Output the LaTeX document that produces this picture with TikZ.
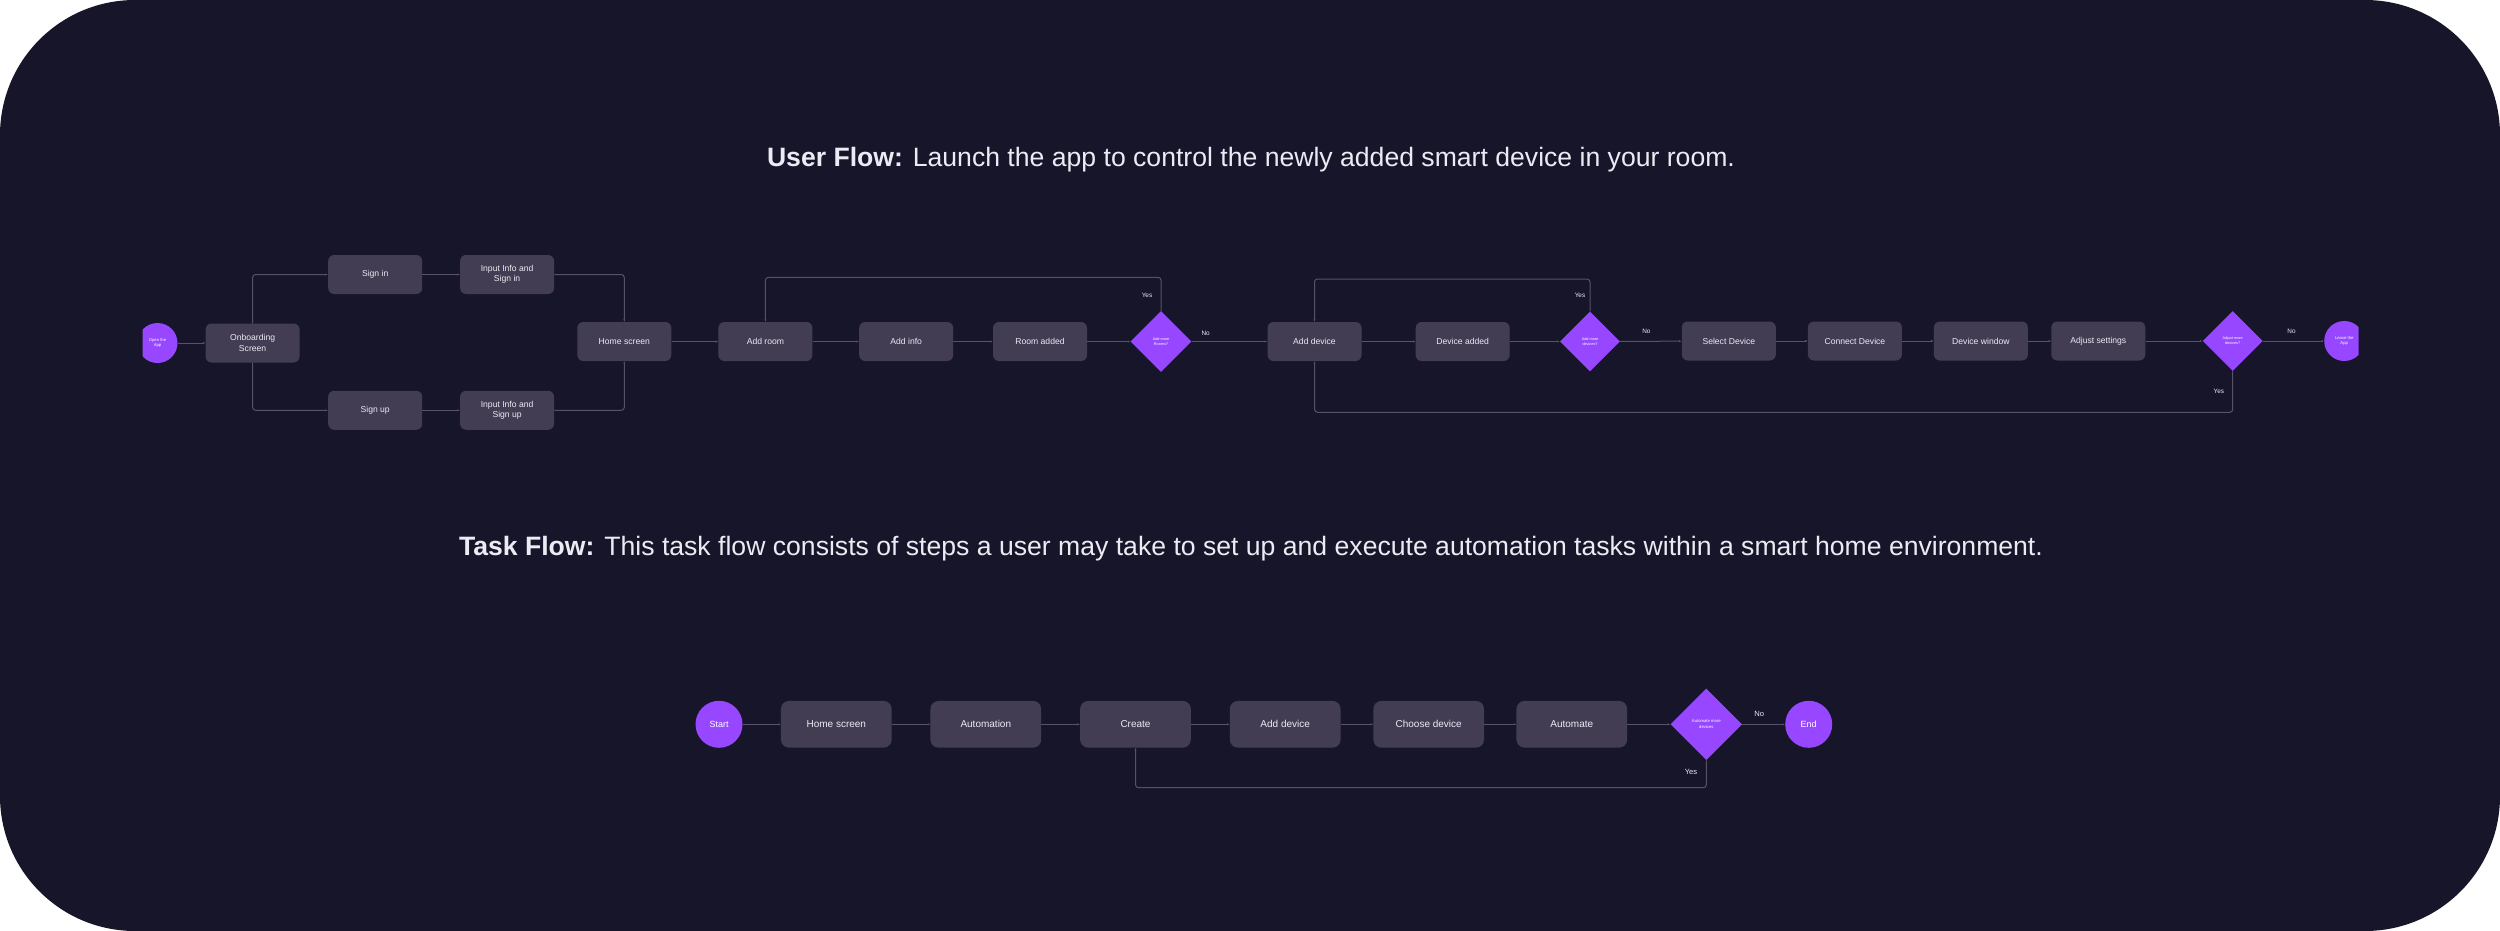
\documentclass[tikz,border=0pt]{standalone}
\usepackage{fontspec}
\setmainfont{Liberation Sans}
\usepackage{tikz}
\usetikzlibrary{positioning, arrows.meta, shapes.geometric}

\definecolor{bgnavy}{HTML}{171529}
\definecolor{boxgray}{HTML}{433D54}
\definecolor{linegray}{HTML}{56526B}
\definecolor{flowpurple}{HTML}{9747FF}
\definecolor{softwhite}{HTML}{ECEAF2}

\tikzset{
    screen/.style={rectangle, rounded corners=6pt, fill=boxgray, text=softwhite, minimum width=94pt, minimum height=39pt, inner sep=0pt, align=center, font=\fontsize{8.6}{10.5}\selectfont},
    taskbox/.style={screen, minimum width=110.7pt, minimum height=46.7pt, rounded corners=8pt, font=\fontsize{10}{12}\selectfont},
    choice/.style={diamond, fill=flowpurple, text=white, minimum width=61pt, minimum height=61pt, inner sep=0pt, align=center, font=\fontsize{3.8}{4.8}\selectfont},
    endpoint/.style={circle, fill=flowpurple, text=white, minimum size=40pt, inner sep=0pt, align=center, font=\fontsize{4.2}{5.4}\selectfont},
    flow/.style={draw=linegray, line width=1pt, rounded corners=3pt, -{Latex[length=2.5pt, width=2.2pt]}},
    lbl/.style={text=softwhite, inner sep=0pt, font=\fontsize{6.4}{7}\selectfont},
    title/.style={anchor=base, text=softwhite, inner sep=0pt, font=\fontsize{26.6}{30}\selectfont}
}

\begin{document}
\begin{tikzpicture}[x=1pt, y=-1pt]
    \useasboundingbox (0,0) rectangle (2500,931);
    \fill[white] (0,0) rectangle (2500,931);
    \fill[bgnavy, rounded corners=135pt] (0,0) rectangle (2500,931);

    % Titles
    \node (usertitle) [title] at (1251,166) {\textbf{User Flow:} Launch the app to control the newly added smart device in your room.};
    \node (tasktitle) [title] at (1251,555) {\textbf{Task Flow:} This task flow consists of steps a user may take to set up and execute automation tasks within a smart home environment.};

    % User flow nodes
    \begin{scope}
    \clip (142.5,0) rectangle (2358.7,931);
    \node (open) [endpoint] at (157.5,343) {Open the\\App};
    \node (onboard) [screen] at (252.6,343) {Onboarding\\Screen};
    \node (signin) [screen] at (375.2,274.5) {Sign in};
    \node (infoin) [screen] at (507.1,274.5) {Input Info and\\Sign in};
    \node (signup) [screen] at (375.2,410.3) {Sign up};
    \node (infoup) [screen] at (507.1,410.3) {Input Info and\\Sign up};
    \node (home) [screen] at (624.3,341.5) {Home screen};
    \node (addroom) [screen] at (765.4,341.5) {Add room};
    \node (addinfo) [screen] at (906.2,341.5) {Add info};
    \node (roomadded) [screen] at (1040,341.5) {Room added};
    \node (morerooms) [choice] at (1161,341.5) {Add more\\Rooms?};
    \node (adddevice) [screen] at (1314.5,341.5) {Add device};
    \node (devadded) [screen] at (1462.7,341.5) {Device added};
    \node (moredevs) [choice, minimum width=60pt, minimum height=60pt] at (1590,341.5) {Add more\\devices?};
    \node (selectdev) [screen] at (1728.8,341) {Select Device};
    \node (connectdev) [screen] at (1854.9,341) {Connect Device};
    \node (devwindow) [screen] at (1980.9,341) {Device window};
    \node (adjust) [screen] at (2098.3,341) {Adjust settings};
    \node (adjustmore) [choice, minimum width=60pt, minimum height=60pt] at (2232.7,341) {Adjust more\\devices?};
    \node (leave) [endpoint] at (2344.2,341) {Leave the\\App};
    \end{scope}

    % User flow labels
    \node (yesrooms) [lbl] at (1147,295) {Yes};
    \node (norooms) [lbl] at (1205.7,333) {No};
    \node (yesdevs) [lbl] at (1580,295) {Yes};
    \node (nodevs) [lbl] at (1646.4,331.7) {No};
    \node (noadjust) [lbl] at (2291.5,331.7) {No};
    \node (yesadjust) [lbl] at (2218.8,391) {Yes};

    % User flow arrows
    \draw[flow] (open) -- (onboard);
    \draw[flow] (onboard.north) |- (signin.west);
    \draw[flow] (onboard.south) |- (signup.west);
    \draw[flow] (signin) -- (infoin);
    \draw[flow] (signup) -- (infoup);
    \draw[flow] (infoin.east) -| (home.north);
    \draw[flow] (infoup.east) -| (home.south);
    \draw[flow] (home) -- (addroom);
    \draw[flow] (addroom) -- (addinfo);
    \draw[flow] (addinfo) -- (roomadded);
    \draw[flow] (roomadded) -- (morerooms);
    \draw[flow] (morerooms.north) -- (morerooms.north |- 0,277.3) -| (addroom.north);
    \draw[flow] (morerooms) -- (adddevice);
    \draw[flow] (adddevice) -- (devadded);
    \draw[flow] (devadded) -- (moredevs);
    \draw[flow] (moredevs.north) -- (moredevs.north |- 0,279) -| (adddevice.north);
    \draw[flow] (moredevs) -- (selectdev);
    \draw[flow] (selectdev) -- (connectdev);
    \draw[flow] (connectdev) -- (devwindow);
    \draw[flow] (devwindow) -- (adjust);
    \draw[flow] (adjust) -- (adjustmore);
    \draw[flow] (adjustmore.south) -- (adjustmore.south |- 0,412.3) -| (adddevice.south);
    \draw[flow] (adjustmore) -- (leave);

    % Task flow nodes
    \node (start) [endpoint, minimum size=47pt, font=\fontsize{9}{11}\selectfont] at (719,724.3) {Start};
    \node (taskhome) [taskbox] at (836.3,724.3) {Home screen};
    \node (automation) [taskbox] at (985.8,724.3) {Automation};
    \node (create) [taskbox] at (1135.5,724.3) {Create};
    \node (taskadd) [taskbox] at (1285.2,724.3) {Add device};
    \node (choose) [taskbox] at (1428.7,724.3) {Choose device};
    \node (automate) [taskbox] at (1571.8,724.3) {Automate};
    \node (automore) [choice, minimum width=71.5pt, minimum height=71.5pt, font=\fontsize{4.2}{6}\selectfont] at (1706.3,724.3) {Automate more\\devices};
    \node (finish) [endpoint, minimum size=47pt, font=\fontsize{9}{11}\selectfont] at (1808.7,724.3) {End};

    % Task flow labels
    \node (noauto) [lbl, font=\fontsize{7.6}{9}\selectfont] at (1759.3,714.3) {No};
    \node (yesauto) [lbl, font=\fontsize{7.6}{9}\selectfont] at (1691,772.3) {Yes};

    % Task flow arrows
    \draw[flow] (start) -- (taskhome);
    \draw[flow] (taskhome) -- (automation);
    \draw[flow] (automation) -- (create);
    \draw[flow] (create) -- (taskadd);
    \draw[flow] (taskadd) -- (choose);
    \draw[flow] (choose) -- (automate);
    \draw[flow] (automate) -- (automore);
    \draw[flow] (automore) -- (finish);
    \draw[flow] (automore.south) -- (automore.south |- 0,787.7) -| (create.south);
\end{tikzpicture}
\end{document}
